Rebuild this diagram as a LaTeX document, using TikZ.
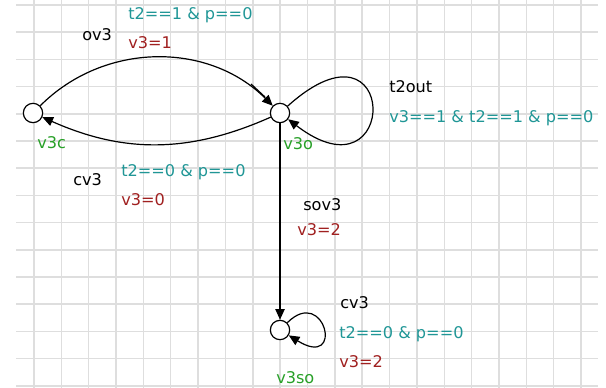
\documentclass[tikz,border=0pt]{standalone}
\usepackage{fontspec}
\setmainfont{DejaVu Sans}
\usepackage{tikz}
\usetikzlibrary{arrows.meta}
\definecolor{cGrid}{RGB}{222,222,222}
\definecolor{cGuard}{RGB}{32,150,150}
\definecolor{cAssign}{RGB}{160,32,32}
\definecolor{cLoc}{RGB}{40,160,40}

\begin{document}
\begin{tikzpicture}[x=0.75pt, y=-0.75pt, font=\fontsize{12.1}{14}\selectfont,
    loc/.style={circle, draw=black, fill=white, line width=0.9pt, minimum size=14.5pt, inner sep=0pt},
    lbl/.style={anchor=base west, inner sep=0pt},
    trans/.style={draw, line width=0.9pt, -{Triangle[length=8pt,width=7pt]}},
    grid/.style={draw=cGrid, line width=1.1pt}]
    \useasboundingbox (0,0) rectangle (606,388);
    % grid
    \foreach \i in {0,...,14}
        \draw[grid] (16,{5+27.2*\i}) -- (598,{5+27.2*\i});
    \foreach \i in {0,...,20}
        \draw[grid] ({34+27.35*\i},0) -- ({34+27.35*\i},388);
    % locations
    \node[loc] (v3c) at (33,113) {};
    \node[loc] (v3o) at (280,113) {};
    \node[loc] (v3so) at (280,330) {};
    \node[lbl, text=cLoc] (v3cname) at (37,149) {v3c};
    \node[lbl, text=cLoc] (v3oname) at (283,150) {v3o};
    \node[lbl, text=cLoc] (v3soname) at (276,383) {v3so};
    % transitions
    \draw[trans] (v3c) to[bend left=45] (v3o);
    \draw[trans] (v3o) to[bend left=24] (v3c);
    \draw[trans] (v3o) .. controls (400,5) and (400,205) .. (v3o);
    \draw[trans] (v3o) -- (v3so);
    \draw[trans] (v3so) .. controls (325,285) and (345,370) .. (v3so);
    \coordinate (tickA) at (251,84);
    \coordinate (tickB) at (265,97);
    \draw[line width=0.9pt] (tickA) -- (tickB);
    % labels
    \node[lbl] (ov3) at (82,41) {ov3};
    \node[lbl, text=cGuard] (ov3g) at (128,20) {t2==1 \& p==0};
    \node[lbl, text=cAssign] (ov3a) at (128,49) {v3=1};
    \node[lbl] (cv3) at (73,186) {cv3};
    \node[lbl, text=cGuard] (cv3g) at (121,177) {t2==0 \& p==0};
    \node[lbl, text=cAssign] (cv3a) at (121,205) {v3=0};
    \node[lbl] (t2out) at (389,93) {t2out};
    \node[lbl, text=cGuard] (t2outg) at (389,123) {v3==1 \& t2==1 \& p==0};
    \node[lbl] (sov3) at (303,211) {sov3};
    \node[lbl, text=cAssign] (sov3a) at (297,235) {v3=2};
    \node[lbl] (cv3b) at (340,308) {cv3};
    \node[lbl, text=cGuard] (cv3bg) at (339,338) {t2==0 \& p==0};
    \node[lbl, text=cAssign] (cv3ba) at (339,367) {v3=2};
\end{tikzpicture}
\end{document}
